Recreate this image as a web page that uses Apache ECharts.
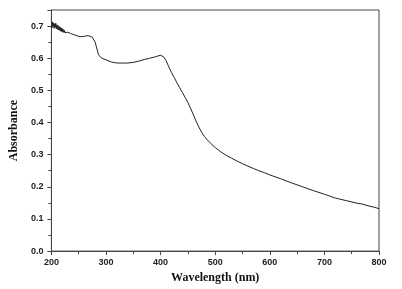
<!DOCTYPE html>
<html>
<head>
<meta charset="utf-8">
<script src="https://cdn.jsdelivr.net/npm/echarts@6/dist/echarts.min.js"></script>
<style>
html, body { margin: 0; padding: 0; background: #fff; }
#chart { width: 402px; height: 289px; }
</style>
</head>
<body>
<div id="chart"></div>
<script>
// wavelength (nm) and absorbance
var wavelength = [200, 201, 202, 203, 204, 205, 206, 207, 208, 209, 210, 211, 212, 213, 214, 215,
    216, 217, 218, 219, 220, 221, 222, 223, 224, 225, 226, 228, 230, 232, 235, 238, 240, 245,
    250, 255, 260, 265, 270, 275, 278, 280, 283, 286, 290, 295, 300, 310, 320, 330, 340, 350,
    360, 370, 380, 390, 395, 400, 405, 410, 415, 420, 425, 430, 435, 440, 445, 450, 455, 460,
    465, 470, 475, 480, 485, 490, 500, 510, 520, 530, 540, 550, 560, 570, 580, 590, 600, 620,
    640, 660, 680, 700, 720, 740, 760, 770, 780, 790, 800];
var absorbance = [0.702, 0.694, 0.713, 0.698, 0.710, 0.693, 0.707, 0.696, 0.709, 0.692, 0.704, 0.690,
    0.702, 0.688, 0.699, 0.687, 0.697, 0.684, 0.694, 0.683, 0.692, 0.681, 0.689, 0.680, 0.687,
    0.679, 0.684, 0.678, 0.681, 0.675, 0.677, 0.673, 0.674, 0.671, 0.668, 0.667, 0.668, 0.670,
    0.669, 0.665, 0.660, 0.650, 0.632, 0.612, 0.603, 0.598, 0.595, 0.588, 0.585, 0.585, 0.585,
    0.587, 0.591, 0.596, 0.600, 0.604, 0.607, 0.609, 0.605, 0.593, 0.573, 0.555, 0.540, 0.523,
    0.508, 0.493, 0.478, 0.462, 0.444, 0.424, 0.404, 0.386, 0.370, 0.357, 0.347, 0.338, 0.322,
    0.309, 0.298, 0.289, 0.280, 0.272, 0.264, 0.257, 0.250, 0.244, 0.237, 0.225, 0.212, 0.200,
    0.188, 0.177, 0.165, 0.157, 0.149, 0.146, 0.141, 0.137, 0.132];

var xName = 'Wavelength (nm)';
var yName = 'Absorbance';

var points = [];
wavelength.forEach(function (w, i) {
    points.push([w, absorbance[i]]);
});

var chart = echarts.init(document.getElementById('chart'));
var axisColor = '#444';
var option = {
    animation: false,
    grid: {
        left: 50, right: 23, top: 10, bottom: 33,
        show: true, borderColor: axisColor, borderWidth: 1
    },
    xAxis: {
        type: 'value',
        min: 200, max: 800, interval: 100,
        name: xName,
        nameLocation: 'middle',
        nameGap: 19,
        nameTextStyle: { fontFamily: 'Liberation Serif', fontWeight: 'bold', fontSize: 12, color: '#111' },
        axisLine: { lineStyle: { color: axisColor, width: 1 } },
        axisTick: { show: true, length: 4, lineStyle: { color: axisColor } },
        minorTick: { show: true, splitNumber: 2, length: 3, lineStyle: { color: axisColor } },
        axisLabel: { fontFamily: 'Liberation Sans', fontWeight: 'bold', fontSize: 9, color: '#222', margin: 7 },
        splitLine: { show: false }
    },
    yAxis: {
        type: 'value',
        min: 0, max: 0.75, interval: 0.1,
        name: yName,
        nameLocation: 'middle',
        nameGap: 30,
        nameTextStyle: { fontFamily: 'Liberation Serif', fontWeight: 'bold', fontSize: 12, color: '#111' },
        axisLine: { show: true, lineStyle: { color: axisColor, width: 1 } },
        axisTick: { show: true, length: 4, lineStyle: { color: axisColor } },
        minorTick: { show: true, splitNumber: 2, length: 3, lineStyle: { color: axisColor } },
        axisLabel: {
            fontFamily: 'Liberation Sans', fontWeight: 'bold', fontSize: 9, color: '#222', margin: 8,
            showMaxLabel: false,
            formatter: function (v) { return v.toFixed(1); }
        },
        splitLine: { show: false }
    },
    series: [{
        type: 'line',
        data: points,
        showSymbol: false,
        lineStyle: { color: '#222', width: 1 }
    }]
};
chart.setOption(option);
</script>
</body>
</html>
